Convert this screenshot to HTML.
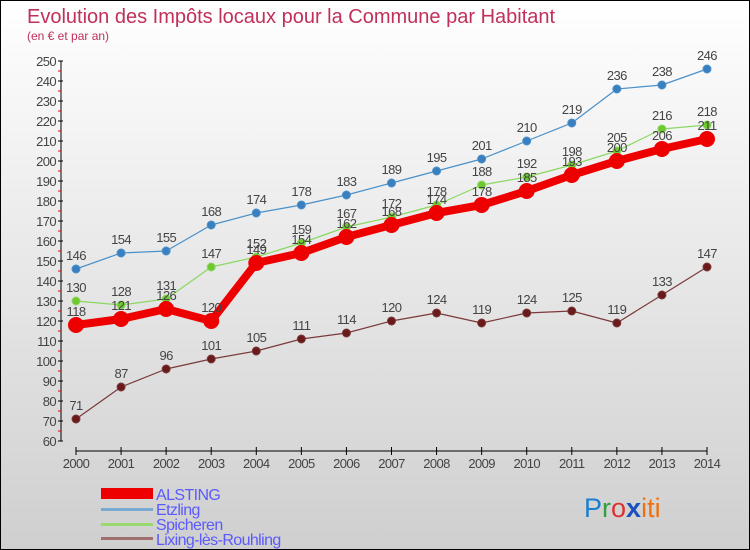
<!DOCTYPE html>
<html><head><meta charset="utf-8"><style>
body{margin:0}
#c{width:748px;height:548px;border:1px solid #000;background:linear-gradient(#ffffff,#cfcfcf);position:relative;overflow:hidden;font-family:"Liberation Sans",sans-serif}
text{font-family:"Liberation Sans",sans-serif}
</style></head><body>
<div id="c">
<svg id="s" width="748" height="548">
<text x="26" y="22" font-size="20" fill="#c0305a">Evolution des Impôts locaux pour la Commune par Habitant</text>
<text x="26" y="39" font-size="12" fill="#c0305a">(en € et par an)</text>
<g id="ax"></g><g id="ser"></g>
<g>
<rect x="100" y="487" width="52" height="11" fill="#e00"/>
<text x="155" y="499" font-size="16" fill="#5a5aff" letter-spacing="-0.6">ALSTING</text>
<rect x="100" y="507" width="52" height="3" fill="#7aaad0"/>
<text x="155" y="514" font-size="16" fill="#5a5aff" letter-spacing="-0.6">Etzling</text>
<rect x="100" y="522" width="52" height="3" fill="#9ad870"/>
<text x="155" y="529" font-size="16" fill="#5a5aff" letter-spacing="-0.6">Spicheren</text>
<rect x="100" y="536" width="52" height="3" fill="#a07070"/>
<text x="155" y="544" font-size="16" fill="#5a5aff" letter-spacing="-0.6">Lixing-lès-Rouhling</text>
</g>
<text x="583" y="516" font-size="27" font-family="Liberation Sans"><tspan fill="#1a7fd0">P</tspan><tspan fill="#30a040">r</tspan><tspan fill="#e03030">o</tspan><tspan fill="#1a50c0" font-weight="bold">x</tspan><tspan fill="#f07010">iti</tspan></text>
</svg></div>
<script>
const years=[2000,2001,2002,2003,2004,2005,2006,2007,2008,2009,2010,2011,2012,2013,2014];
const yTicks=[60,70,80,90,100,110,120,130,140,150,160,170,180,190,200,210,220,230,240,250];
const alsting=[118,121,126,120,149,154,162,168,174,178,185,193,200,206,211];
const etzling=[146,154,155,168,174,178,183,189,195,201,210,219,236,238,246];
const spicheren=[130,128,131,147,152,159,167,172,178,188,192,198,205,216,218];
const lixing=[71,87,96,101,105,111,114,120,124,119,124,125,119,133,147];
const NS="http://www.w3.org/2000/svg";
const X=i=>75+i*(706-75)/14;
const Y=v=>440-(v-60)*2;
function mk(t,a,p){const e=document.createElementNS(NS,t);for(const k in a)e.setAttribute(k,a[k]);p.appendChild(e);return e;}
const ax=document.getElementById('ax');
mk('line',{x1:60,y1:60,x2:60,y2:440,stroke:'#000','stroke-width':1},ax);
mk('line',{x1:75,y1:450,x2:706,y2:450,stroke:'#000','stroke-width':1},ax);
yTicks.forEach(v=>{
 mk('line',{x1:57,y1:Y(v),x2:62,y2:Y(v),stroke:'#000'},ax);
 if(v<250)mk('line',{x1:57,y1:Y(v+5),x2:60,y2:Y(v+5),stroke:'#e00'},ax);
 const t=mk('text',{x:55,y:Y(v)+5,'font-size':13,fill:'#444','text-anchor':'end','letter-spacing':'-0.6'},ax);
 
 
 t.textContent=v;
});
years.forEach((yr,i)=>{
 mk('line',{x1:X(i),y1:446,x2:X(i),y2:454,stroke:'#000'},ax);
 const t=mk('text',{x:X(i),y:467,'font-size':13,fill:'#444','text-anchor':'middle','letter-spacing':'-0.6'},ax);
 
 
 t.textContent=yr;
});
const ser=document.getElementById('ser');
function draw(name,vals,color,w,r,dot){
 const g=mk('g',{},ser);
 
 
 const pts=vals.map((v,i)=>X(i)+','+Y(v)).join(' ');
 mk('polyline',{points:pts,fill:'none',stroke:color,'stroke-width':w,'stroke-linejoin':'round'},g);
 vals.forEach((v,i)=>{
  const c=mk('circle',{cx:X(i),cy:Y(v),r:r,fill:dot,stroke:color,'stroke-width':1},g);
  
  
  const t=mk('text',{x:X(i),y:Y(v)-9,'font-size':13,fill:'#444','text-anchor':'middle','letter-spacing':'-0.6'},g);
  
  
  t.textContent=v;
 });
}
draw('lixing',lixing,'#7a3a3a',1.2,4,'#6a1a1a');
draw('etzling',etzling,'#4a90c8',1.2,4,'#3a80c0');
draw('spicheren',spicheren,'#8ad860',1.2,4,'#70c830');
draw('alsting',alsting,'#ee0000',8,7.5,'#ee0000');
</script>
</body></html>
